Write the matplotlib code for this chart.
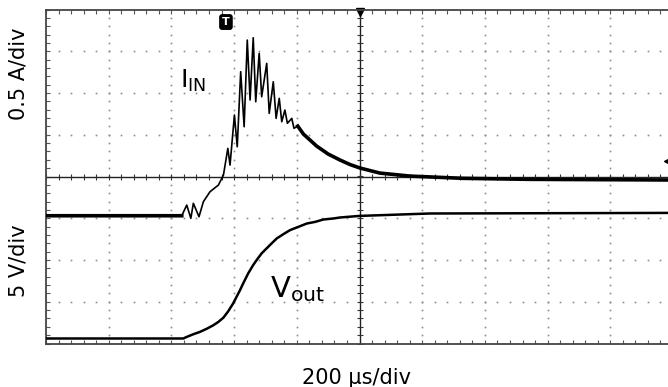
import numpy as np
import matplotlib.pyplot as plt
from matplotlib.ticker import MultipleLocator

# input current (A) vs time (us), screen centre = 0 us
t_in = [-1000, -567, -551, -538, -530, -512, -498, -477, -450, -434,
        -420, -413, -399, -390, -379, -368, -358, -349, -339, -331,
        -320, -312, -296, -288, -275, -266, -256, -248, -238, -230,
        -216, -209, -197, -179, -158, -137, -100, -62, -30, 2,
        65, 161, 330, 544, 1000]
i_in = [0.0, 0.0, 0.128, -0.031, 0.149, -0.012, 0.168, 0.287, 0.368, 0.487,
        0.807, 0.607, 1.206, 0.826, 1.725, 1.066, 2.104, 1.386, 2.132, 1.365,
        1.945, 1.425, 1.825, 1.226, 1.605, 1.166, 1.406, 1.126, 1.266, 1.107,
        1.166, 1.047, 1.074, 0.978, 0.907, 0.835, 0.739, 0.667, 0.613, 0.571,
        0.511, 0.475, 0.448, 0.436, 0.428]

# output voltage (V)
t_out = [-1000, -562, -551, -530, -509, -487, -466, -450, -434, -419,
         -403, -392, -381, -371, -355, -339, -328, -312, -296, -280,
         -264, -243, -222, -195, -168, -142, -115, -84, -62, 0,
         225, 1000]
v_out = [0.0, 0.0, 0.19, 0.51, 0.79, 1.17, 1.59, 1.99, 2.5, 3.25,
         4.2, 5.0, 5.8, 6.6, 7.8, 8.8, 9.4, 10.2, 10.8, 11.4,
         11.98, 12.49, 12.97, 13.37, 13.77, 13.96, 14.25, 14.37, 14.49, 14.68,
         14.97, 15.04]

# scope settings
T_DIV = 200      # us/div
I_DIV = 0.5      # A/div
V_DIV = 5        # V/div
I_POS = -0.94    # ground level of ch. current, in div
V_POS = -3.88    # ground level of ch. voltage, in div
TRIG_T = -426    # trigger point (us)
TRIG_I = 0.655   # trigger level (A)

fig = plt.figure(figsize=(6.68, 3.87), dpi=100)
ax = fig.add_axes([46/668, 1 - 343.5/387, 627/668, 334/387])
ax.set_xlim(-5*T_DIV, 5*T_DIV)
ax.set_ylim(-4, 4)

# graticule: dotted division lines
ys = np.arange(-4, 4.01, 0.2)
xs = np.arange(-5*T_DIV, 5*T_DIV + 1, T_DIV/5)
for k in range(-4, 5):
    if k == 0:
        continue
    ax.plot(np.full_like(ys, k*T_DIV), ys, ls='none', marker='s', ms=1.2,
            color='#8a8a8a', mew=0)
for k in range(-3, 4):
    if k == 0:
        continue
    ax.plot(xs, np.full_like(xs, k), ls='none', marker='s', ms=1.2,
            color='#8a8a8a', mew=0)

# centre cross with minor ticks
ax.axhline(0, color='#222', lw=1)
ax.axvline(0, color='#222', lw=1)
ax.plot(xs, np.zeros_like(xs), ls='none', marker='|', ms=5, mew=0.8, color='#333')
ax.plot(np.zeros_like(ys), ys, ls='none', marker='_', ms=5, mew=0.8, color='#333')

ax.xaxis.set_major_locator(MultipleLocator(T_DIV))
ax.xaxis.set_minor_locator(MultipleLocator(T_DIV/5))
ax.yaxis.set_major_locator(MultipleLocator(1))
ax.yaxis.set_minor_locator(MultipleLocator(0.2))
ax.tick_params(which='both', direction='in', length=3, width=0.8, color='#555',
               top=True, right=True, labelbottom=False, labelleft=False)
for s in ax.spines.values():
    s.set_color('#444')
    s.set_linewidth(1.3)

# channels on their own scales
ax_i = ax.twinx()
ax_i.set_ylim((-4 - I_POS)*I_DIV, (4 - I_POS)*I_DIV)
ax_i.axis('off')
ax_v = ax.twinx()
ax_v.set_ylim((-4 - V_POS)*V_DIV, (4 - V_POS)*V_DIV)
ax_v.axis('off')

t_in = np.array(t_in)
i_in = np.array(i_in)
ax_i.plot(t_in, i_in, color='black', lw=1.2)
# noisy parts of the trace look thicker
ax_i.plot(t_in, np.where((t_in >= -200) | (t_in <= -567), i_in, np.nan),
          color='black', lw=2.6)
ax_v.plot(t_out, v_out, color='black', lw=1.8)

# markers
ax.text(TRIG_T, 3.70, 'T', ha='center', va='center', color='white',
        fontsize=8, fontweight='bold',
        bbox=dict(boxstyle='round,pad=0.2', fc='black', ec='black'))
ax.plot(0, 3.93, marker='v', ms=6, color='black', clip_on=False)
ax_i.plot(985, TRIG_I, marker='<', ms=6, color='black', clip_on=False)

lbl = ['Liberation Sans Narrow', 'DejaVu Sans']
ax.text(-573, 2.12, r'$\mathregular{I_{IN}}$', fontsize=18, family=lbl,
        ha='left', va='baseline')
ax.text(-285, -2.886, r'$\mathregular{V_{out}}$', fontsize=21, family=lbl,
        ha='left', va='baseline')

fig.text(0.0277, 0.809, '0.5 A/div', rotation=90, ha='center', va='center', fontsize=15)
fig.text(0.0277, 0.326, '5 V/div', rotation=90, ha='center', va='center', fontsize=15)
fig.text(0.533, 0.0078, '200 µs/div', ha='center', va='baseline', fontsize=15)

fig.savefig('out.png', dpi=100)
